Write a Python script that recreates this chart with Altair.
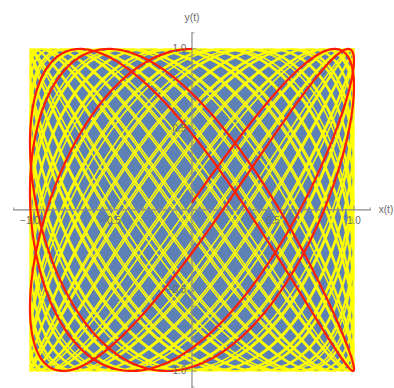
import altair as alt
import numpy as np
import pandas as pd

# Parametric curve x(t) = -sin(t), y(t) = cos(k t) with an irrational ratio k
FREQ_RATIO = np.sqrt(2.0)
RED_T_END = 6 * np.pi        # short trace drawn in red
YELLOW_T_END = 82 * np.pi    # long trace that fills the square
RED_STEPS = 1200
YELLOW_STEPS = 14000

# Square covered by the curve
square = pd.DataFrame({"x": [-1.0], "x2": [1.0], "y": [-1.0], "y2": [1.0]})

# Axis ticks and labels
x_ticks = [-1.0, -0.5, 0.5, 1.0]
x_tick_labels = ["\u22121.0", "\u22120.5", "0.5", "1.0"]
y_ticks = [1.0, 0.5, -0.5, -1.0]
y_tick_labels = ["1.0", "0.5", "\u22120.5", "\u22121.0"]
minor_ticks = [-1.1, -0.9, -0.8, -0.7, -0.6, -0.4, -0.3, -0.2, -0.1,
               0.1, 0.2, 0.3, 0.4, 0.6, 0.7, 0.8, 0.9, 1.1]
x_axis_span = [-1.105, 1.105]
y_axis_span = [-1.11, 1.105]


def trace(t_end, steps):
    t = np.linspace(0.0, t_end, steps)
    return pd.DataFrame({"t": t, "x": -np.sin(t), "y": np.cos(FREQ_RATIO * t)})


red_df = trace(RED_T_END, RED_STEPS)
yellow_df = trace(YELLOW_T_END, YELLOW_STEPS)

XS = alt.Scale(domain=[-1.185, 1.247], nice=False, zero=False)
YS = alt.Scale(domain=[-1.106, 1.304], nice=False, zero=False)
AXIS_GREY = "#8a8a8a"
LABEL_GREY = "#6b6b6b"


def xq(field):
    return alt.X(field, type="quantitative", scale=XS, axis=None)


def yq(field):
    return alt.Y(field, type="quantitative", scale=YS, axis=None)


background = alt.Chart(square).mark_rect(color="#5e81b5").encode(
    x=xq("x"), x2="x2", y=yq("y"), y2="y2"
)

yellow = alt.Chart(yellow_df).mark_line(color="#ffff00", strokeWidth=1.5).encode(
    x=xq("x"), y=yq("y"), order="t:Q"
)

red = alt.Chart(red_df).mark_line(color="#ff1a00", strokeWidth=2.2).encode(
    x=xq("x"), y=yq("y"), order="t:Q"
)

x_axis = alt.Chart(pd.DataFrame({"x": [x_axis_span[0]], "x2": [x_axis_span[1]], "y": [0.0]})).mark_rule(
    color=AXIS_GREY, strokeWidth=1.2
).encode(x=xq("x"), x2="x2", y=yq("y"))

y_axis = alt.Chart(pd.DataFrame({"y": [y_axis_span[0]], "y2": [y_axis_span[1]], "x": [0.0]})).mark_rule(
    color=AXIS_GREY, strokeWidth=1.2
).encode(y=yq("y"), y2="y2", x=xq("x"))

x_major = alt.Chart(pd.DataFrame({"x": x_ticks, "y": 0.0, "y2": 0.028})).mark_rule(
    color=AXIS_GREY, strokeWidth=1
).encode(x=xq("x"), y=yq("y"), y2="y2")
x_minor = alt.Chart(pd.DataFrame({"x": minor_ticks, "y": 0.0, "y2": 0.016})).mark_rule(
    color=AXIS_GREY, strokeWidth=0.8
).encode(x=xq("x"), y=yq("y"), y2="y2")
y_major = alt.Chart(pd.DataFrame({"y": y_ticks, "x": 0.0, "x2": 0.028})).mark_rule(
    color=AXIS_GREY, strokeWidth=1
).encode(y=yq("y"), x=xq("x"), x2="x2")
y_minor = alt.Chart(pd.DataFrame({"y": minor_ticks, "x": 0.0, "x2": 0.016})).mark_rule(
    color=AXIS_GREY, strokeWidth=0.8
).encode(y=yq("y"), x=xq("x"), x2="x2")

x_labels = alt.Chart(pd.DataFrame({"x": x_ticks, "y": -0.068, "label": x_tick_labels})).mark_text(
    color=LABEL_GREY, fontSize=10, font="Liberation Sans", align="center", baseline="middle"
).encode(x=xq("x"), y=yq("y"), text="label:N")

y_labels = alt.Chart(pd.DataFrame({"y": y_ticks, "x": -0.035, "label": y_tick_labels})).mark_text(
    color=LABEL_GREY, fontSize=10, font="Liberation Sans", align="right", baseline="middle"
).encode(x=xq("x"), y=yq("y"), text="label:N")

x_title = alt.Chart(pd.DataFrame({"x": [1.153], "y": [0.0], "label": ["x(t)"]})).mark_text(
    color=LABEL_GREY, fontSize=10, font="Liberation Sans", align="left", baseline="middle"
).encode(x=xq("x"), y=yq("y"), text="label:N")
y_title = alt.Chart(pd.DataFrame({"x": [0.0], "y": [1.195], "label": ["y(t)"]})).mark_text(
    color=LABEL_GREY, fontSize=10.5, font="Liberation Sans", align="center", baseline="middle"
).encode(x=xq("x"), y=yq("y"), text="label:N")

chart = alt.layer(
    background, yellow, x_axis, y_axis, x_major, x_minor, y_major, y_minor,
    red, x_labels, y_labels, x_title, y_title
).properties(
    width=394, height=388, padding=0,
    autosize=alt.AutoSizeParams(type="none"),
    background="white",
).configure_view(stroke=None)

chart.save("out.html", embed_options={"renderer": "svg", "actions": False})
